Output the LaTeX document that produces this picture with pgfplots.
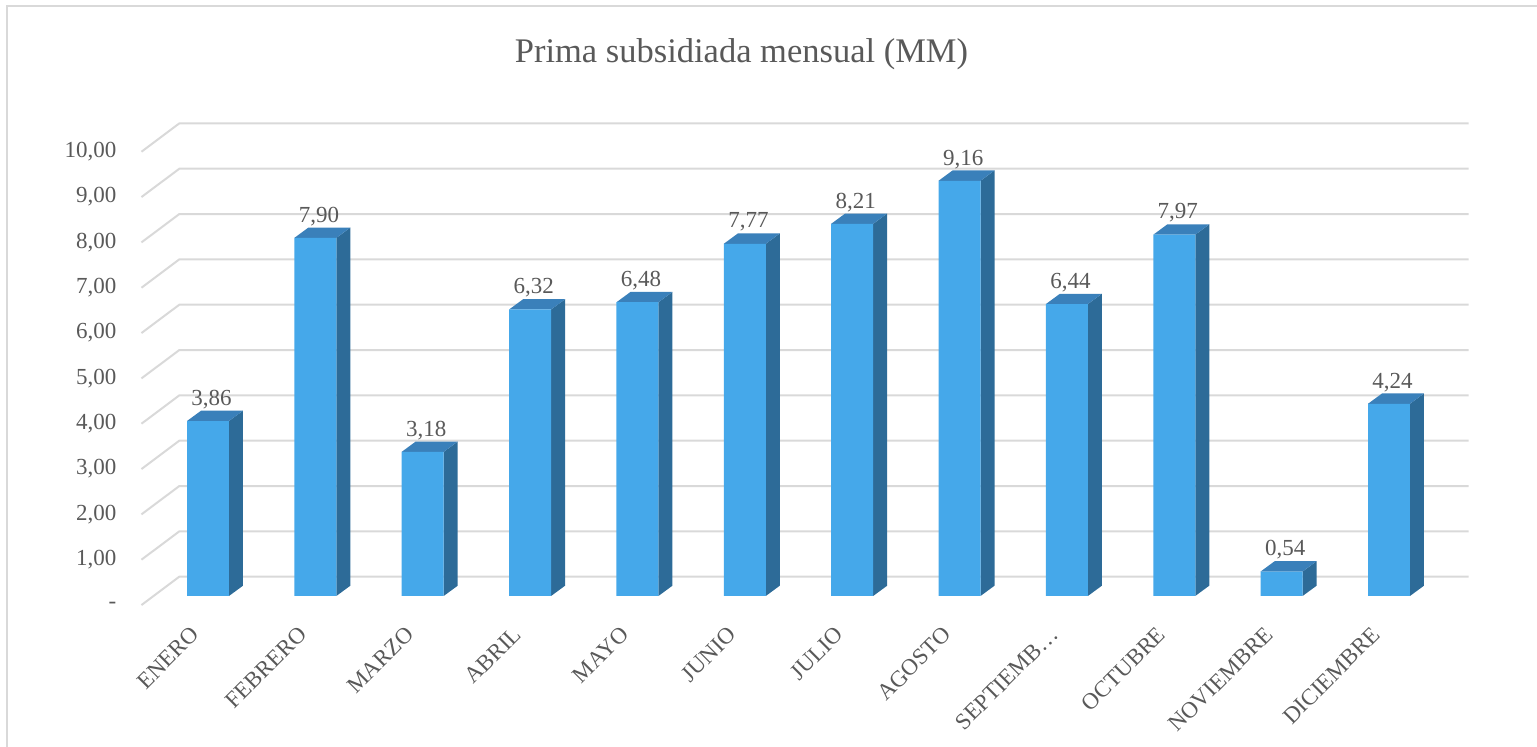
\documentclass[border=0pt]{standalone}
\usepackage{pgfplots}
\pgfplotsset{compat=1.18}
\usepackage{pgfplotstable}
\usepackage{fontspec}
\setmainfont{Liberation Serif}

\definecolor{barfront}{HTML}{45A8EA}
\definecolor{bartop}{HTML}{3A80BA}
\definecolor{barside}{HTML}{2D6B98}
\definecolor{gridgray}{HTML}{D9D9D9}
\definecolor{textgray}{HTML}{595959}

% monthly values (MM)
\pgfplotstableread{
idx val lab
0 3.86 3,86
1 7.90 7,90
2 3.18 3,18
3 6.32 6,32
4 6.48 6,48
5 7.77 7,77
6 8.21 8,21
7 9.16 9,16
8 6.44 6,44
9 7.97 7,97
10 0.54 0,54
11 4.24 4,24
}\datatable

% bar width and depth offsets (axis units)
\newcommand\bw{0.391}
\newcommand\bdx{0.1304}
\newcommand\bdy{0.227}
\newcommand\lblfont{\fontsize{11.5}{13}\selectfont}

\begin{document}
\begin{tikzpicture}
\useasboundingbox (0,0) rectangle (768.5pt,373.5pt);
\draw[gridgray, line width=1pt] (3.65pt,-10pt) rectangle (790pt,370.65pt);
\node[font=\fontsize{17.25}{20}\selectfont, text=textgray] at (370.75pt,346.5pt) {Prima subsidiada mensual (MM)};
\begin{axis}[
  at={(70.72pt,70.97pt)}, anchor=south west,
  scale only axis, width=663.55pt, height=241.38pt,
  xmin=-0.62, xmax=11.741, ymin=-0.2, ymax=10.45,
  axis line style={draw=none}, major tick length=0pt,
  clip=false,
  xtick={0,...,11},
  xticklabels={ENERO,FEBRERO,MARZO,ABRIL,MAYO,JUNIO,JULIO,AGOSTO,SEPTIEMB…,OCTUBRE,NOVIEMBRE,DICIEMBRE},
  ytick={-0.2,0.8,1.8,2.8,3.8,4.8,5.8,6.8,7.8,8.8,9.8},
  yticklabels={{-\hspace{5.5pt}},{1,00},{2,00},{3,00},{4,00},{5,00},{6,00},{7,00},{8,00},{9,00},{10,00}},
  xticklabel style={font=\lblfont, text=textgray, xshift=-3.6pt, yshift=-15.4pt, rotate=45, anchor=base east, inner sep=0pt},
  yticklabel style={font=\lblfont, text=textgray, anchor=east, inner sep=0pt, xshift=-12.37pt},
]
% 3D grid: front diagonal then back wall
\pgfplotsforeachungrouped \v in {0,...,10}{
  \pgfmathsetmacro\ga{\v-0.2}
  \pgfmathsetmacro\gb{\v+0.426}
  \edef\cmd{\noexpand\addplot[gridgray, line width=1pt, forget plot] coordinates {(-0.62,\ga) (-0.267,\gb) (11.741,\gb)};}
  \cmd
}
% side and top faces of each bar
\pgfplotstablegetrowsof{\datatable}
\pgfmathtruncatemacro\nrows{\pgfplotsretval-1}
\pgfplotsforeachungrouped \r in {0,...,\nrows}{
  \pgfplotstablegetelem{\r}{idx}\of\datatable \let\bx\pgfplotsretval
  \pgfplotstablegetelem{\r}{val}\of\datatable \let\bv\pgfplotsretval
  \pgfmathsetmacro\xl{\bx-\bw/2}
  \pgfmathsetmacro\xr{\bx+\bw/2}
  \pgfmathsetmacro\xlb{\xl+\bdx}
  \pgfmathsetmacro\xrb{\xr+\bdx}
  \pgfmathsetmacro\vt{\bv+\bdy}
  \edef\cmd{\noexpand\addplot[fill=barside, draw=none, forget plot] coordinates {(\xr,0) (\xrb,\bdy) (\xrb,\vt) (\xr,\bv)};
    \noexpand\addplot[fill=bartop, draw=none, forget plot] coordinates {(\xl,\bv) (\xr,\bv) (\xrb,\vt) (\xlb,\vt)};}
  \cmd
}
% front faces with value labels
\addplot[ybar, bar width=\bw, bar shift=0pt, fill=barfront, draw=none,
  nodes near coords, point meta=explicit symbolic,
  every node near coord/.append style={anchor=center, inner sep=0pt, xshift=1.8pt, yshift=10.8pt, font=\lblfont, text=textgray}]
  table[x=idx, y=val, meta=lab] {\datatable};
\end{axis}
\end{tikzpicture}
\end{document}
